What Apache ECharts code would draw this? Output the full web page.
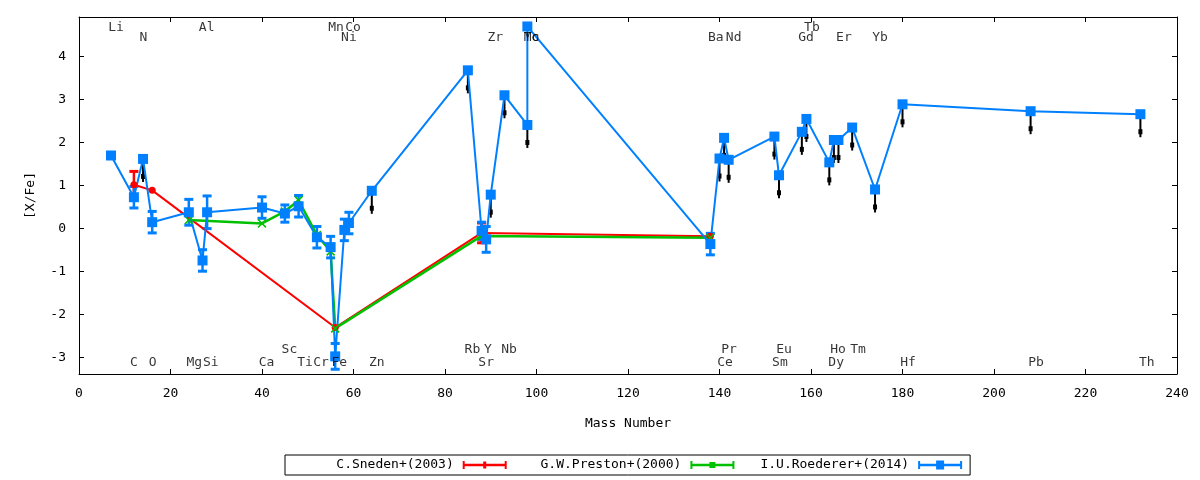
<!DOCTYPE html>
<html>
<head>
<meta charset="utf-8">
<script src="https://cdn.jsdelivr.net/npm/echarts@6/dist/echarts.min.js"></script>
<style>html,body{margin:0;padding:0;background:#fff;}#c{width:1200px;height:480px;}</style>
</head>
<body>
<div id="c"></div>
<script>
// ---------------- data ----------------
const xTicks = [0, 20, 40, 60, 80, 100, 120, 140, 160, 180, 200, 220, 240];
const yTicks = [-3, -2, -1, 0, 1, 2, 3, 4];

// C.Sneden+(2003)
const redMass = [12, 16, 56, 88, 138];
const redVal  = [1.02, 0.89, -2.30, -0.10, -0.18];
const redErr  = [0.31, 0, 0, 0.23, 0];

// G.W.Preston+(2000)
const greenMass = [24, 40, 45, 48, 52, 55, 56, 88, 138];
const greenVal  = [0.20, 0.12, 0.40, 0.66, -0.15, -0.53, -2.32, -0.17, -0.21];

// I.U.Roederer+(2014)
const blueElem = ['Li','C','N','O','Mg','Al','Si','Ca','Sc','Ti','Cr','Mn','Fe','Ni','Co','Zn','Rb','Sr','Y','Zr','Nb','Mo','Tc','Ba','Ce','Pr','Nd','Sm','Eu','Gd','Tb','Dy','Ho','Er','Tm','Yb','Hf','Pb','Th'];
const blueMass = [7, 12, 14, 16, 24, 27, 28, 40, 45, 48, 52, 55, 56, 58, 59, 64, 85, 88, 89, 90, 93, 98, 98, 138, 140, 141, 142, 152, 153, 158, 159, 164, 165, 166, 169, 174, 180, 208, 232];
const blueVal  = [1.70, 0.73, 1.62, 0.15, 0.38, -0.74, 0.38, 0.49, 0.35, 0.52, -0.20, -0.43, -2.97, -0.03, 0.13, 0.88, 3.68, -0.05, -0.25, 0.79, 3.10, 2.41, 4.70, -0.36, 1.63, 2.11, 1.60, 2.14, 1.24, 2.25, 2.55, 1.54, 2.06, 2.06, 2.35, 0.91, 2.89, 2.73, 2.66];
const blueErr  = [0, 0.25, 0, 0.25, 0.30, 0.25, 0.38, 0.25, 0.20, 0.25, 0.25, 0.25, 0.30, 0.25, 0.25, 0, 0, 0.20, 0.30, 0, 0, 0, 0, 0.25, 0, 0, 0, 0, 0, 0, 0, 0, 0, 0, 0, 0, 0, 0, 0];
const blueUpperLimit = [0, 0, 1, 0, 0, 0, 0, 0, 0, 0, 0, 0, 0, 0, 0, 1, 1, 0, 0, 1, 1, 1, 0, 0, 1, 1, 1, 1, 1, 1, 1, 1, 1, 1, 1, 1, 1, 1, 1];

// element labels: name, mass position, row (0,1 top; 2,3 bottom)
const labelName = ['Li','Al','Mn','Co','Tb',
                   'N','Ni','Zr','Mo','Tc','Ba','Nd','Gd','Er','Yb',
                   'Sc','Rb','Y','Nb','Pr','Eu','Ho','Tm',
                   'C','O','Mg','Si','Ca','Ti','Cr','Fe','Zn','Sr','Ce','Sm','Dy','Hf','Pb','Th'];
const labelMass = [8.1, 27.9, 56.2, 59.9, 160.2,
                   14.1, 59.0, 91.0, 98.9, 98.9, 139.2, 143.1, 158.9, 167.2, 175.1,
                   46.0, 86.0, 89.4, 94.0, 142.1, 154.1, 165.9, 170.3,
                   12.0, 16.1, 25.2, 28.8, 41.0, 49.4, 52.9, 56.9, 65.1, 89.0, 141.2, 153.2, 165.5, 181.2, 209.2, 233.4];
const labelRow  = [0,0,0,0,0,
                   1,1,1,1,1,1,1,1,1,1,
                   2,2,2,2,2,2,2,2,
                   3,3,3,3,3,3,3,3,3,3,3,3,3,3,3,3];
const rowY = [4.68, 4.44, -2.81, -3.12];

const seriesNames = ['C.Sneden+(2003)', 'G.W.Preston+(2000)', 'I.U.Roederer+(2014)'];

// ---------------- styles ----------------
const FONT = 'DejaVu Sans Mono';
const RED = '#ff0000', GREEN = '#00c000', BLUE = '#0080ff';
const txt = {color: '#000', fontFamily: FONT, fontSize: 13};

function errRender(color) {
  return function (params, api) {
    const x = api.value(0), y = api.value(1), e = api.value(2);
    const t = api.coord([x, y + e]);
    const b = api.coord([x, y - e]);
    const w = 4.5;
    return {
      type: 'group',
      children: [
        {type: 'line', shape: {x1: t[0], y1: t[1], x2: b[0], y2: b[1]}, style: {stroke: color, lineWidth: 2.5}},
        {type: 'line', shape: {x1: t[0] - w, y1: t[1], x2: t[0] + w, y2: t[1]}, style: {stroke: color, lineWidth: 3}},
        {type: 'line', shape: {x1: b[0] - w, y1: b[1], x2: b[0] + w, y2: b[1]}, style: {stroke: color, lineWidth: 3}}
      ]
    };
  };
}
function limRender(params, api) {
  const p = api.coord([api.value(0), api.value(1)]);
  return {
    type: 'group',
    children: [
      {type: 'line', shape: {x1: p[0], y1: p[1], x2: p[0], y2: p[1] + 23}, style: {stroke: '#000', lineWidth: 2}},
      {type: 'rect', shape: {x: p[0] - 2, y: p[1] + 15, width: 4, height: 5}, style: {fill: '#000'}}
    ]
  };
}

const redData = redMass.map((m, i) => [m, redVal[i]]);
const redErrData = redMass.map((m, i) => [m, redVal[i], redErr[i]]).filter(d => d[2] > 0);
const greenData = greenMass.map((m, i) => [m, greenVal[i]]);
const blueData = blueMass.map((m, i) => [m, blueVal[i]]);
const blueErrData = blueMass.map((m, i) => [m, blueVal[i], blueErr[i]]).filter(d => d[2] > 0);
const limData = blueMass.map((m, i) => [m, blueVal[i], blueUpperLimit[i]]).filter(d => d[2] === 1);
const labelData = labelName.map((n, i) => ({name: n, value: [labelMass[i], rowY[labelRow[i]]]}));

const capsBar = 'M0,0.5H2V8.5H0Z M42,0.5H44V8.5H42Z M0,3.3H44V5.7H0Z ';
const iconRed = 'path://' + capsBar + 'M20.5,1H23.5V8H20.5Z M0,0H0.01V9H0Z';
const iconGreen = 'path://' + capsBar + 'M19,1.5H25V7.5H19Z M0,0H0.01V9H0Z';
const iconBlue = 'path://' + capsBar + 'M18,0H26V9H18Z';
const crossSym = 'path://M0,1L1,0L4,3L7,0L8,1L5,4L8,7L7,8L4,5L1,8L0,7L3,4Z';

const axisLineStyle = {onZero: false, lineStyle: {color: '#000', width: 1}};

const option = {
  animation: false,
  backgroundColor: '#fff',
  grid: {left: 79, right: 23, top: 17, bottom: 106},
  xAxis: [
    {
      type: 'value', min: xTicks[0], max: xTicks[xTicks.length - 1], interval: 20, position: 'bottom',
      axisLine: axisLineStyle,
      axisTick: {inside: true, length: 5, lineStyle: {color: '#000'}},
      axisLabel: Object.assign({margin: 13}, txt),
      splitLine: {show: false},
      name: 'Mass Number', nameLocation: 'middle', nameGap: 43, nameTextStyle: txt
    },
    {
      type: 'value', min: xTicks[0], max: xTicks[xTicks.length - 1], interval: 20, position: 'top',
      axisLine: axisLineStyle,
      axisTick: {inside: true, length: 5, lineStyle: {color: '#000'}},
      axisLabel: {show: false},
      splitLine: {show: false}
    }
  ],
  yAxis: [
    {
      type: 'value', min: -3.38, max: 4.92, position: 'left',
      axisLine: axisLineStyle,
      axisTick: {inside: true, length: 5, lineStyle: {color: '#000'}, customValues: yTicks},
      axisLabel: Object.assign({margin: 13, customValues: yTicks}, txt),
      splitLine: {show: false},
      name: '[X/Fe]', nameLocation: 'middle', nameGap: 42, nameRotate: 90, nameTextStyle: txt
    },
    {
      type: 'value', min: -3.38, max: 4.92, position: 'right',
      axisLine: axisLineStyle,
      axisTick: {inside: true, length: 5, lineStyle: {color: '#000'}, customValues: yTicks},
      axisLabel: {show: false, customValues: yTicks},
      splitLine: {show: false}
    }
  ],
  legend: {
    left: 285, top: 455,
    orient: 'horizontal',
    align: 'right',
    itemWidth: 44, itemHeight: 9, itemGap: 26,
    padding: [3, 8, 3, 20],
    borderColor: '#000', borderWidth: 1, backgroundColor: '#fff',
    selectedMode: false,
    formatter: n => n.padStart(19, ' '),
    textStyle: Object.assign({padding: [0, 4, 0, 0], lineHeight: 14}, txt),
    data: [
      {name: seriesNames[0], icon: iconRed},
      {name: seriesNames[1], icon: iconGreen},
      {name: seriesNames[2], icon: iconBlue}
    ]
  },
  series: [
    {
      name: 'err-red', type: 'custom', renderItem: errRender(RED), data: redErrData,
      encode: {x: 0, y: 1}, itemStyle: {color: RED}, silent: true
    },
    {
      name: seriesNames[0], type: 'line', data: redData,
      symbol: 'circle', symbolSize: 7,
      lineStyle: {color: RED, width: 2}, itemStyle: {color: RED},
      emphasis: {disabled: true}, silent: true
    },
    {
      name: seriesNames[1], type: 'line', data: greenData,
      symbol: crossSym, symbolSize: 9,
      lineStyle: {color: GREEN, width: 2.5}, itemStyle: {color: GREEN},
      emphasis: {disabled: true}, silent: true
    },
    {
      name: 'limits', type: 'custom', renderItem: limRender, data: limData,
      encode: {x: 0, y: 1}, itemStyle: {color: '#000'}, silent: true
    },
    {
      name: 'err-blue', type: 'custom', renderItem: errRender(BLUE), data: blueErrData,
      encode: {x: 0, y: 1}, itemStyle: {color: BLUE}, silent: true
    },
    {
      name: seriesNames[2], type: 'line', data: blueData,
      symbol: 'rect', symbolSize: 10,
      lineStyle: {color: BLUE, width: 2}, itemStyle: {color: BLUE},
      emphasis: {disabled: true}, silent: true
    },
    {
      name: 'elements', type: 'scatter', data: labelData,
      symbol: 'circle', symbolSize: 1, itemStyle: {color: 'rgba(0,0,0,0)'},
      label: Object.assign({show: true, position: 'inside', formatter: p => p.name}, txt),
      emphasis: {disabled: true}, silent: true, z: 5
    }
  ]
};

const chart = echarts.init(document.getElementById('c'), null, {renderer: 'canvas'});
chart.setOption(option);
</script>
</body>
</html>
